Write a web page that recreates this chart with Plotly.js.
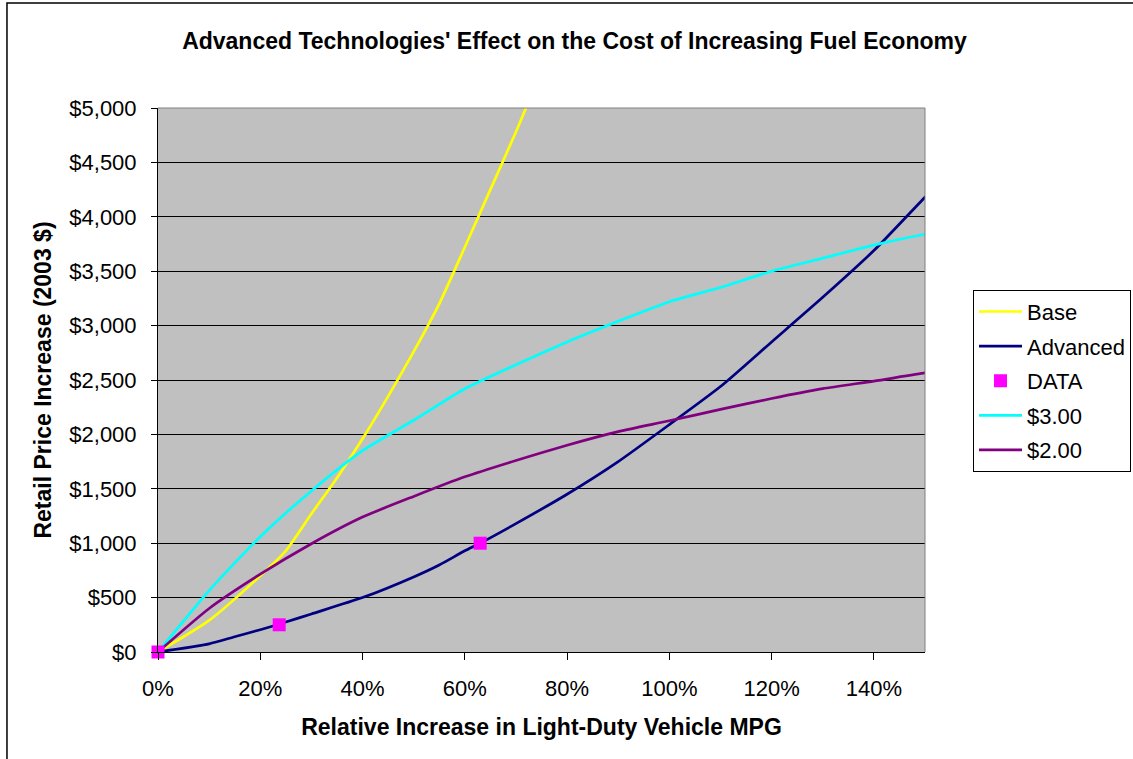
<!DOCTYPE html>
<html>
<head>
<meta charset="utf-8">
<script src="https://cdn.plot.ly/plotly-3.0.1.min.js"></script>
<style>html,body{margin:0;padding:0;background:#fff;}#chart{width:1133px;height:759px;}</style>
</head>
<body>
<div id="chart"></div>
<script>
// Relative MPG increase (fraction) and retail price increase (2003 $)
const baseX = [0, 0.1, 0.2, 0.25, 0.3, 0.35, 0.4, 0.45, 0.5, 0.55, 0.6, 0.65, 0.7, 0.725];
const baseY = [0, 290, 700, 930, 1270, 1600, 1960, 2350, 2760, 3200, 3720, 4250, 4780, 5060];

const advX = [0, 0.1, 0.15, 0.2, 0.25, 0.3, 0.4, 0.5, 0.55, 0.6, 0.63, 0.7, 0.8, 0.9, 1.0, 1.1, 1.2, 1.3, 1.4, 1.5, 1.52];
const advY = [0, 75, 140, 205, 275, 350, 500, 690, 800, 930, 1000, 1180, 1450, 1750, 2090, 2440, 2850, 3260, 3690, 4180, 4270];

const dataX = [0, 0.237, 0.63];
const dataY = [0, 250, 1000];

const p3X = [0, 0.1, 0.2, 0.3, 0.4, 0.5, 0.6, 0.7, 0.8, 0.9, 1.0, 1.1, 1.2, 1.3, 1.4, 1.5, 1.52];
const p3Y = [0, 565, 1060, 1480, 1850, 2130, 2420, 2640, 2850, 3040, 3220, 3350, 3500, 3620, 3740, 3840, 3855];

const p2X = [0, 0.1, 0.2, 0.3, 0.4, 0.5, 0.6, 0.7, 0.8, 0.9, 1.0, 1.1, 1.2, 1.3, 1.4, 1.5, 1.52];
const p2Y = [0, 400, 715, 995, 1240, 1430, 1610, 1760, 1900, 2025, 2125, 2230, 2330, 2420, 2490, 2565, 2575];

const seriesNames = ['Base', 'Advanced', 'DATA', '$3.00', '$2.00'];
const xTickVals = [0, 0.2, 0.4, 0.6, 0.8, 1.0, 1.2, 1.4];
const xTickText = ['0%', '20%', '40%', '60%', '80%', '100%', '120%', '140%'];
const yTickVals = [0, 500, 1000, 1500, 2000, 2500, 3000, 3500, 4000, 4500, 5000];
const yTickText = ['$0', '$500', '$1,000', '$1,500', '$2,000', '$2,500', '$3,000', '$3,500', '$4,000', '$4,500', '$5,000'];

const FONT = 'Arial, "Liberation Sans", sans-serif';

const traces = [
  {x: baseX, y: baseY, name: seriesNames[0], mode: 'lines', line: {color: '#FFFF00', width: 2.7, shape: 'spline', smoothing: 0.6}, legendgroup: 'a', legendrank: 1},
  {x: advX, y: advY, name: seriesNames[1], mode: 'lines', line: {color: '#000080', width: 2.7, shape: 'spline', smoothing: 0.6}, legendgroup: 'b', legendrank: 2},
  {x: dataX, y: dataY, name: seriesNames[2], mode: 'markers', marker: {color: '#FF00FF', symbol: 'square', size: 13}, cliponaxis: false, legendgroup: 'c', legendrank: 3},
  {x: p3X, y: p3Y, name: seriesNames[3], mode: 'lines', line: {color: '#00FFFF', width: 2.7, shape: 'spline', smoothing: 0.6}, legendgroup: 'd', legendrank: 4},
  {x: p2X, y: p2Y, name: seriesNames[4], mode: 'lines', line: {color: '#800080', width: 2.7, shape: 'spline', smoothing: 0.6}, legendgroup: 'e', legendrank: 5}
];
// draw DATA markers on top of lines
const ordered = [traces[0], traces[1], traces[3], traces[4], traces[2]];

const layout = {
  width: 1133, height: 759,
  margin: {l: 158, r: 208, t: 108, b: 107, autoexpand: false},
  paper_bgcolor: '#FFFFFF',
  plot_bgcolor: '#C0C0C0',
  font: {family: FONT, color: '#000', size: 22},
  title: {text: "<b>Advanced Technologies' Effect on the Cost of Increasing Fuel Economy</b>",
          font: {family: FONT, size: 23, color: '#000'},
          x: 0.507, xref: 'container', xanchor: 'center',
          y: 0.946, yref: 'container', yanchor: 'middle'},
  xaxis: {
    range: [0, 1.5], tickvals: xTickVals, ticktext: xTickText,
    ticks: 'outside', ticklen: 7, tickcolor: '#000', tickwidth: 1,
    showline: true, linecolor: '#000', linewidth: 1,
    showgrid: false, zeroline: false, automargin: false,
    ticklabelstandoff: 10,
    tickfont: {family: FONT, size: 22, color: '#000'},
    title: {text: '<b>Relative Increase in Light-Duty Vehicle MPG</b>', font: {family: FONT, size: 23, color: '#000'}, standoff: 18}
  },
  yaxis: {
    range: [0, 5000], tickvals: yTickVals, ticktext: yTickText,
    ticks: 'outside', ticklen: 6, tickcolor: '#000', tickwidth: 1,
    showline: true, linecolor: '#000', linewidth: 1,
    showgrid: true, gridcolor: '#000', gridwidth: 1, zeroline: false, automargin: false,
    ticklabelstandoff: 10,
    tickfont: {family: FONT, size: 22, color: '#000'},
    title: {text: '<b>Retail Price Increase (2003 $)</b>', font: {family: FONT, size: 23, color: '#000'}, standoff: 11}
  },
  showlegend: true,
  legend: {
    x: 1.0626, xanchor: 'left', y: 0.666, yanchor: 'top',
    bgcolor: '#FFFFFF', bordercolor: '#000', borderwidth: 1,
    font: {family: FONT, size: 22, color: '#000'},
    tracegroupgap: 3, traceorder: 'grouped', itemwidth: 43
  },
  shapes: [
    {type: 'line', xref: 'paper', yref: 'paper', x0: 0, x1: 1, y0: 1, y1: 1, line: {color: '#808080', width: 1}},
    {type: 'line', xref: 'paper', yref: 'paper', x0: 1, x1: 1, y0: 0, y1: 1, line: {color: '#808080', width: 1}},
    {type: 'rect', xref: 'paper', yref: 'paper', x0: -0.1969, x1: 1.3, y0: -0.23, y1: 1.193, line: {color: '#000', width: 1.5}, fillcolor: 'rgba(0,0,0,0)', layer: 'below'}
  ]
};

Plotly.newPlot('chart', ordered, layout, {displayModeBar: false, staticPlot: true});
</script>
</body>
</html>
